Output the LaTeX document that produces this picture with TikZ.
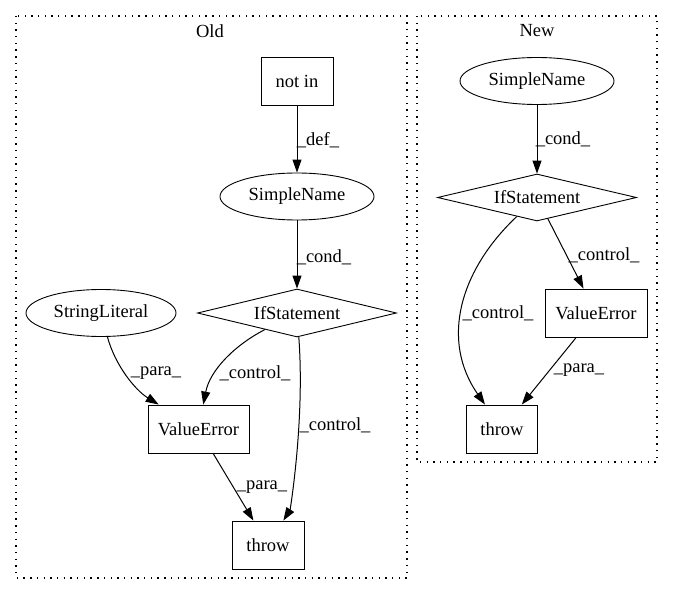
\documentclass[tikz,border=0pt]{standalone}
\usepackage{fontspec}
\setmainfont{Liberation Serif}
\usetikzlibrary{shapes.geometric,arrows.meta,calc}
\tikzset{
  base/.style={draw, line width=0.9pt, inner sep=0pt, font=\fontsize{18.5}{22}\selectfont},
  boxnode/.style={base, rectangle, minimum height=48pt},
  ellnode/.style={base, ellipse, minimum width=154pt, minimum height=47pt},
  dianode/.style={base, diamond, aspect=4, minimum width=199pt, minimum height=48pt},
  lbl/.style={inner sep=0pt, font=\fontsize{18.5}{22}\selectfont},
  cluster/.style={draw, line width=1.3pt, dash pattern=on 1.4pt off 5.3pt},
  edgeline/.style={line width=1pt, -{Triangle[length=13pt,width=9pt]}}
}
\begin{document}
\begin{tikzpicture}[x=1pt,y=-1pt]
\useasboundingbox (0,0) rectangle (673,596);
% clusters
\draw[cluster] (16,16) rectangle (407,578);
\node[lbl] (oldtitle) at (210,31) {Old};
\draw[cluster] (417,16) rectangle (657,462);
\node[lbl] (newtitle) at (537,31) {New};

% Old nodes
\node[boxnode, minimum width=72pt] (oldnotin) at (297,81) {not in};
\node[ellnode] (oldsn) at (297,196.5) {SimpleName};
\node[dianode] (oldif) at (297,313) {IfStatement};
\node[ellnode, minimum width=150pt] (oldsl) at (101,313) {StringLiteral};
\node[boxnode, minimum width=101pt] (oldve) at (198.5,429) {ValueError};
\node[boxnode, minimum width=72pt] (oldthrow) at (268,545) {throw};

% New nodes
\node[ellnode] (newsn) at (537,81) {SimpleName};
\node[dianode, minimum height=47pt] (newif) at (537,197.5) {IfStatement};
\node[boxnode, minimum width=102pt] (newve) at (596,313) {ValueError};
\node[boxnode, minimum width=71pt] (newthrow) at (502,429) {throw};

% Old edges
\draw[edgeline] (oldnotin) -- (oldsn);
\node[lbl] (l1) at (318,140) {\_def\_};
\draw[edgeline] (oldsn) -- (oldif);
\node[lbl] (l2) at (324,257) {\_cond\_};
\draw[edgeline] (oldsl) .. controls (115,365) and (135,390) .. (oldve);
\node[lbl] (l3) at (156,373) {\_para\_};
\draw[edgeline] (oldif) .. controls (235,345) and (210,370) .. (oldve);
\node[lbl] (l4) at (255,373) {\_control\_};
\draw[edgeline] (oldif) .. controls (305,420) and (290,510) .. (oldthrow);
\node[lbl] (l5) at (335,425) {\_control\_};
\draw[edgeline] (oldve) -- (oldthrow);
\node[lbl] (l6) at (262,487) {\_para\_};

% New edges
\draw[edgeline] (newsn) -- (newif);
\node[lbl] (l7) at (563,139) {\_cond\_};
\draw[edgeline] (newif) -- (newve);
\node[lbl] (l8) at (604,255) {\_control\_};
\draw[edgeline] (newif) .. controls (460,270) and (440,340) .. (newthrow);
\node[lbl] (l9) at (498,313) {\_control\_};
\draw[edgeline] (newve) -- (newthrow);
\node[lbl] (l10) at (579,370) {\_para\_};
\end{tikzpicture}
\end{document}
